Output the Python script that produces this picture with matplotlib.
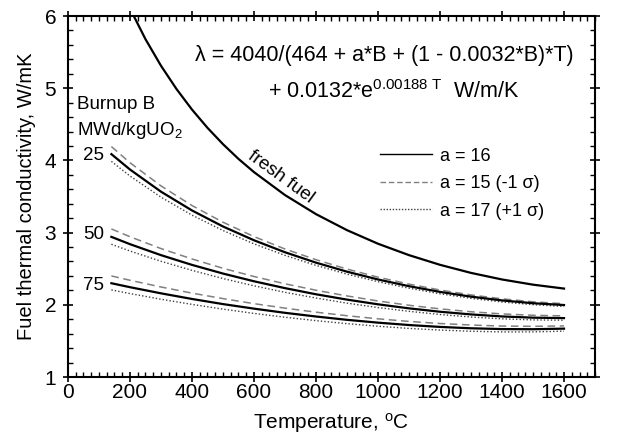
import matplotlib
matplotlib.use('Agg')
import matplotlib.pyplot as plt
from matplotlib.ticker import MultipleLocator
from matplotlib.lines import Line2D

plt.rcParams['font.family'] = ['Liberation Sans', 'DejaVu Sans']
plt.rcParams['mathtext.fontset'] = 'custom'
plt.rcParams['mathtext.rm'] = 'Liberation Sans'
plt.rcParams['mathtext.it'] = 'Liberation Sans:italic'

# ---- data ----
T_fresh = [200, 250, 300, 350, 400, 450, 500, 550, 600, 700, 800, 900, 1000,
           1100, 1200, 1300, 1400, 1500, 1600]
k_fresh = [6.104, 5.679, 5.311, 4.989, 4.704, 4.451, 4.225, 4.021, 3.838, 3.520,
           3.256, 3.034, 2.846, 2.688, 2.554, 2.442, 2.351, 2.279, 2.225]

T = [140, 200, 300, 400, 500, 600, 700, 800, 900, 1000, 1100, 1200, 1300,
     1400, 1500, 1600]

k25_a16 = [4.087, 3.874, 3.567, 3.307, 3.085, 2.894, 2.728, 2.584, 2.459, 2.351,
           2.258, 2.179, 2.113, 2.061, 2.022, 1.997]
k25_a15 = [4.192, 3.968, 3.647, 3.375, 3.144, 2.945, 2.773, 2.625, 2.495, 2.383,
           2.287, 2.205, 2.137, 2.083, 2.042, 2.015]
k25_a17 = [3.987, 3.784, 3.491, 3.242, 3.029, 2.844, 2.685, 2.546, 2.425, 2.320,
           2.230, 2.153, 2.090, 2.039, 2.002, 1.978]

k50_a16 = [2.941, 2.840, 2.688, 2.553, 2.433, 2.326, 2.231, 2.146, 2.072, 2.007,
           1.951, 1.904, 1.867, 1.839, 1.822, 1.816]
k50_a15 = [3.051, 2.943, 2.779, 2.635, 2.506, 2.392, 2.291, 2.202, 2.123, 2.053,
           1.994, 1.944, 1.904, 1.874, 1.855, 1.847]
k50_a17 = [2.839, 2.745, 2.603, 2.477, 2.364, 2.263, 2.173, 2.094, 2.023, 1.962,
           1.910, 1.866, 1.831, 1.806, 1.791, 1.787]

k75_a16 = [2.299, 2.244, 2.159, 2.081, 2.010, 1.947, 1.889, 1.838, 1.792, 1.753,
           1.720, 1.694, 1.675, 1.664, 1.662, 1.670]
k75_a15 = [2.400, 2.340, 2.247, 2.162, 2.086, 2.016, 1.954, 1.898, 1.849, 1.806,
           1.770, 1.741, 1.720, 1.706, 1.702, 1.708]
k75_a17 = [2.206, 2.156, 2.077, 2.006, 1.940, 1.881, 1.828, 1.781, 1.739, 1.703,
           1.673, 1.650, 1.634, 1.625, 1.625, 1.635]

burnups = ['25', '50', '75']
legend_labels = ['a = 16', 'a = 15 (-1 \u03c3)', 'a = 17 (+1 \u03c3)']

# ---- figure ----
fig = plt.figure(figsize=(6.26, 4.34), dpi=100)
ax = fig.add_axes([0.1086, 0.1313, 0.8419, 0.8318])

solid = dict(color='black', lw=1.6, ls='-')
dashed = dict(color='#808080', lw=1.1, ls=(0, (5, 3)))
dotted = dict(color='#404040', lw=1.0, ls=(0, (1, 1.5)))

ax.plot(T_fresh, k_fresh, **solid)
for ka16, ka15, ka17 in [(k25_a16, k25_a15, k25_a17),
                         (k50_a16, k50_a15, k50_a17),
                         (k75_a16, k75_a15, k75_a17)]:
    ax.plot(T, ka15, **dashed)
    ax.plot(T, ka17, **dotted)
    ax.plot(T, ka16, **solid)

ax.set_xlim(0, 1700)
ax.set_ylim(1, 6)
ax.xaxis.set_major_locator(MultipleLocator(200))
ax.xaxis.set_minor_locator(MultipleLocator(25))
ax.yaxis.set_major_locator(MultipleLocator(1))
ax.yaxis.set_minor_locator(MultipleLocator(0.2))
ax.tick_params(which='major', direction='inout', length=7, width=1.2,
               top=True, right=True, labelsize=15)
ax.tick_params(axis='y', which='major', pad=5)
ax.tick_params(axis='x', which='major', pad=1)
ax.tick_params(which='minor', direction='in', length=3.5, width=1.0,
               top=True, right=True)
for s in ax.spines.values():
    s.set_linewidth(1.5)

ax.set_xlabel('Temperature, $^{\\mathrm{o}}$C', fontsize=15, labelpad=6)
ax.set_ylabel('Fuel thermal conductivity, W/mK', fontsize=14.5, labelpad=6)

# equation
ax.text(1021, 5.38, '\u03bb = 4040/(464 + a*B + (1 - 0.0032*B)*T)',
        fontsize=15.5, ha='center', va='baseline')
ax.text(1050, 4.87, '+ 0.0132*e$^{\\mathrm{0.00188\\ T}}$  W/m/K',
        fontsize=15.5, ha='center', va='baseline')

# burnup labels
ax.text(29, 4.78, 'Burnup B', fontsize=13.5, ha='left', va='center')
ax.text(29, 4.42, 'MWd/kgUO$_2$', fontsize=13.5, ha='left', va='center')
ax.text(116, 4.07, burnups[0], fontsize=13.5, ha='right', va='center')
ax.text(116, 2.98, burnups[1], fontsize=13.5, ha='right', va='center')
ax.text(116, 2.27, burnups[2], fontsize=13.5, ha='right', va='center')

ax.text(687, 3.77, 'fresh fuel', fontsize=13.5, ha='center', va='center',
        rotation=-36, rotation_mode='anchor')

handles = [Line2D([], [], color='black', lw=1.0, ls='-'),
           Line2D([], [], color='#808080', lw=1.0, ls=(0, (4, 2))),
           Line2D([], [], color='#404040', lw=1.0, ls=(0, (1, 1.2)))]
ax.legend(handles, legend_labels, loc='upper left',
          bbox_to_anchor=(0.592, 0.635), frameon=False, fontsize=13,
          handlelength=2.9, handletextpad=0.4, labelspacing=0.58,
          borderpad=0, borderaxespad=0)

fig.savefig('out.png', dpi=100)
